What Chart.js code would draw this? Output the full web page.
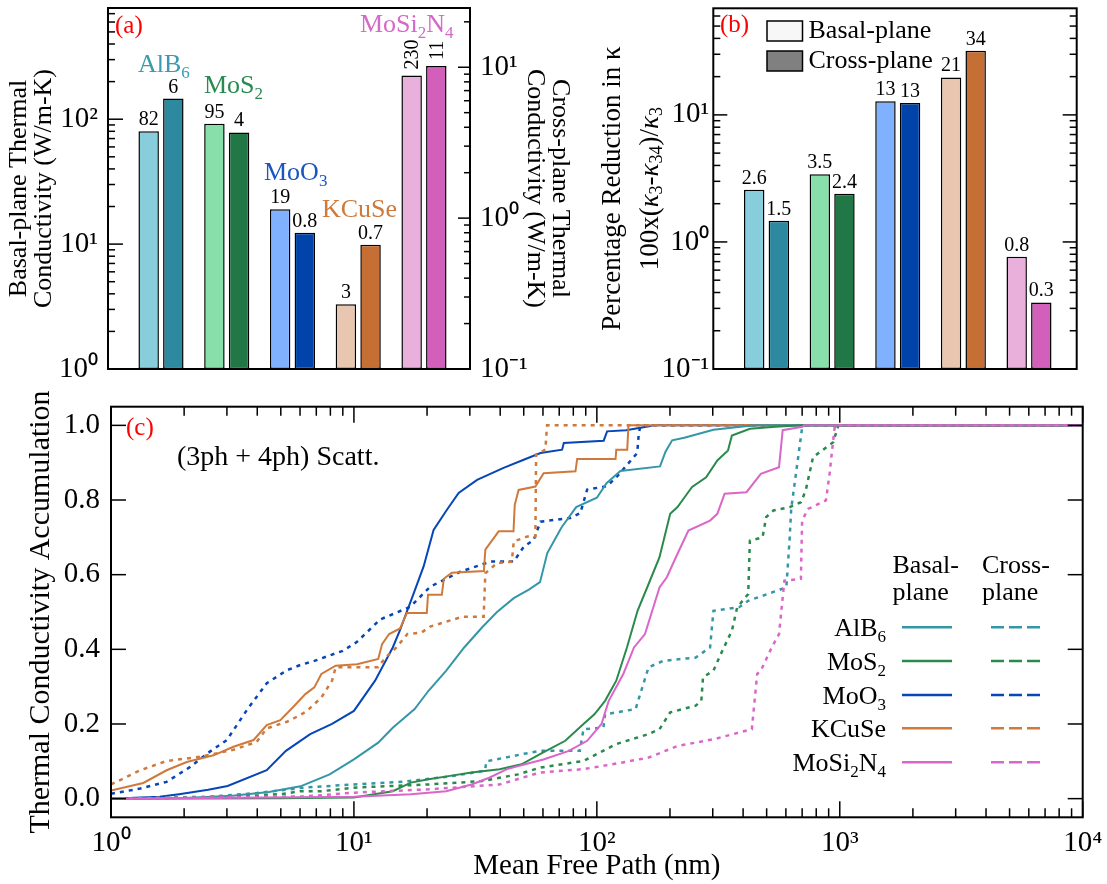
<!DOCTYPE html>
<html><head><meta charset="utf-8">
<script src="https://cdn.jsdelivr.net/npm/chart.js@4.4.1/dist/chart.umd.min.js"></script>
<style>
html,body{margin:0;padding:0;background:#fff;}
#wrap{position:relative;width:1107px;height:884px;background:#fff;overflow:hidden;}
canvas{position:absolute;display:block;}
</style></head><body>
<div id="wrap">
<canvas id="ca" width="580" height="390" style="left:0px;top:0px;width:580px;height:390px"></canvas>
<canvas id="cb" width="527" height="390" style="left:580px;top:0px;width:527px;height:390px"></canvas>
<canvas id="cc" width="1107" height="494" style="left:0px;top:390px;width:1107px;height:494px"></canvas>
</div>
<script>
// ---------------- DATA ----------------
const materials = ['AlB₆', 'MoS₂', 'MoO₃', 'KCuSe', 'MoSi₂N₄'];
const categoryPos = [1, 2, 3, 4, 5];
// panel (a): thermal conductivity (W/m-K)
const kBasal = [80, 92, 19, 3.3, 224];
const kCross = [6.2, 3.7, 0.80, 0.665, 10.2];
const kBasalLabels = ['82', '95', '19', '3', '230'];
const kCrossLabels = ['6', '4', '0.8', '0.7', '11'];
// panel (b): percentage reduction in kappa
const redBasal = [2.58, 3.41, 12.8, 19.7, 0.766];
const redCross = [1.47, 2.39, 12.4, 31.9, 0.334];
const redBasalLabels = ['2.6', '3.5', '13', '21', '0.8'];
const redCrossLabels = ['1.5', '2.4', '13', '34', '0.3'];
// tick values
const logTicksA = [1,2,3,4,5,6,7,8,9,10,20,30,40,50,60,70,80,90,100,200,300,400,500,600,700];
const logTicksA2 = [0.1,0.2,0.3,0.4,0.5,0.6,0.7,0.8,0.9,1,2,3,4,5,6,7,8,9,10,20];
const logTicksB = [0.1,0.2,0.3,0.4,0.5,0.6,0.7,0.8,0.9,1,2,3,4,5,6,7,8,9,10,20,30,40,50,60];
const logTicksC = [1,2,3,4,5,6,7,8,9,10,20,30,40,50,60,70,80,90,100,200,300,400,500,600,700,800,900,1000,2000,3000,4000,5000,6000,7000,8000,9000,10000];
const yTicksC = [0, 0.2, 0.4, 0.6, 0.8, 1.0];
// panel (c): accumulation vs mean free path (nm)
const mfpAlB6B = [1, 1.995, 3.162, 4.467, 6.026, 7.943, 10, 12.59, 14.45, 17.78, 20.28, 23.99, 28.44, 33.73, 38.82, 45.50, 52.48, 58.34, 62.52, 71.61, 82.22, 100, 109.6, 125.0, 182.0, 191.9, 204.2, 229.1, 302.0, 398.1, 457.1, 10000];
const accAlB6B = [0, 0.002, 0.008, 0.018, 0.033, 0.065, 0.105, 0.15, 0.19, 0.24, 0.289, 0.343, 0.405, 0.459, 0.50, 0.537, 0.56, 0.58, 0.658, 0.727, 0.781, 0.806, 0.845, 0.878, 0.89, 0.93, 0.96, 0.967, 0.988, 0.997, 1.0, 1.0];
const mfpAlB6C = [1, 2.512, 3.981, 6.31, 10, 15.85, 25.12, 34.67, 35.08, 50.12, 58.34, 85.11, 88.10, 106.4, 108.1, 144.5, 147.2, 163.3, 187.5, 255.3, 292.4, 302.0, 385.5, 419.8, 602.6, 622.3, 631.0, 691.8, 701.5, 10000];
const accAlB6C = [0, 0.005, 0.015, 0.03, 0.038, 0.045, 0.06, 0.075, 0.1, 0.12, 0.128, 0.128, 0.186, 0.19, 0.226, 0.24, 0.258, 0.352, 0.369, 0.378, 0.405, 0.503, 0.513, 0.53, 0.566, 0.70, 0.776, 0.969, 1.0, 1.0];
const mfpMoS2B = [1, 5.012, 10, 14.45, 17.14, 20.28, 24.89, 30.48, 39.81, 48.98, 58.34, 74.13, 88.10, 97.72, 108.1, 120.2, 133.0, 147.2, 163.3, 181.1, 200.4, 214.8, 230.1, 246.6, 281.8, 313.3, 346.7, 359.7, 426.6, 543.3, 691.8, 10000];
const accMoS2B = [0, 0.001, 0.003, 0.02, 0.043, 0.052, 0.061, 0.07, 0.079, 0.092, 0.119, 0.155, 0.2, 0.226, 0.262, 0.316, 0.405, 0.504, 0.575, 0.647, 0.763, 0.781, 0.808, 0.835, 0.861, 0.906, 0.933, 0.973, 0.991, 0.996, 1.0, 1.0];
const mfpMoS2C = [1, 3.162, 5.129, 6.026, 7.345, 10.30, 20.28, 33.73, 47.32, 58.34, 88.10, 120.0, 163.3, 181.1, 200.4, 255.3, 269.2, 273.5, 302.0, 323.6, 359.7, 378.4, 419.8, 426.6, 480.8, 497.7, 533.3, 622.3, 691.8, 724.4, 776.2, 847.2, 939.7, 972.7, 988.6, 10000];
const accMoS2C = [0, 0.004, 0.013, 0.02, 0.02, 0.03, 0.038, 0.047, 0.065, 0.083, 0.101, 0.146, 0.173, 0.186, 0.231, 0.249, 0.262, 0.325, 0.343, 0.387, 0.45, 0.513, 0.548, 0.691, 0.70, 0.754, 0.772, 0.781, 0.794, 0.826, 0.915, 0.933, 0.955, 0.987, 1.0, 1.0];
const mfpMoO3B = [1, 1.585, 1.905, 2.512, 3.02, 4.375, 5.248, 6.607, 8.128, 10, 12.22, 14.45, 15.49, 17.62, 19.36, 21.28, 24.15, 26.98, 32.14, 41.3, 50.0, 58.61, 71.94, 73.11, 106.7, 110.2, 131.8, 166.3, 169.8, 10000];
const accMoO3B = [0, 0.005, 0.012, 0.024, 0.034, 0.076, 0.128, 0.173, 0.2, 0.235, 0.316, 0.405, 0.452, 0.55, 0.622, 0.72, 0.774, 0.819, 0.854, 0.886, 0.908, 0.926, 0.935, 0.953, 0.959, 0.984, 0.987, 0.998, 1.0, 1.0];
const mfpMoO3C = [1, 1.318, 1.694, 2.118, 2.477, 2.999, 3.622, 4.375, 5.297, 6.012, 6.871, 8.995, 10.30, 12.82, 17.06, 20.61, 27.42, 36.48, 45.50, 50.0, 54.95, 58.61, 77.8, 85.51, 91.2, 110.2, 121.1, 146.6, 148.9, 151.4, 10000];
const accMoO3C = [0.013, 0.027, 0.045, 0.085, 0.12, 0.157, 0.237, 0.309, 0.344, 0.358, 0.369, 0.396, 0.42, 0.48, 0.514, 0.568, 0.608, 0.635, 0.635, 0.675, 0.693, 0.742, 0.752, 0.765, 0.828, 0.837, 0.863, 0.926, 0.98, 1.0, 1.0];
const mfpKCuSeB = [1, 1.358, 1.694, 2.051, 2.642, 3.192, 3.864, 4.375, 4.977, 5.636, 6.31, 6.871, 7.345, 8.414, 10.30, 12.59, 13.06, 13.96, 15.49, 16.52, 19.95, 20.18, 23.01, 23.44, 25.29, 34.28, 34.75, 39.45, 45.39, 45.92, 47.64, 55.85, 60.39, 81.66, 82.99, 119.4, 120.2, 133.4, 134.9, 10000];
const accKCuSeB = [0.022, 0.042, 0.076, 0.098, 0.116, 0.139, 0.157, 0.197, 0.21, 0.246, 0.28, 0.298, 0.334, 0.356, 0.36, 0.374, 0.414, 0.441, 0.456, 0.497, 0.497, 0.546, 0.546, 0.589, 0.605, 0.61, 0.667, 0.716, 0.716, 0.787, 0.827, 0.836, 0.872, 0.877, 0.91, 0.91, 0.935, 0.935, 1.0, 1.0];
const mfpKCuSeC = [1, 1.318, 1.694, 2.328, 3.192, 3.981, 4.375, 5.297, 6.012, 6.412, 7.345, 8.128, 8.414, 12.59, 13.49, 14.96, 16.60, 18.97, 20.61, 27.86, 34.20, 34.75, 38.82, 44.67, 45.50, 51.64, 55.85, 56.23, 61.38, 62.37, 10000];
const accKCuSeC = [0.038, 0.076, 0.101, 0.112, 0.131, 0.152, 0.188, 0.206, 0.224, 0.235, 0.271, 0.316, 0.352, 0.352, 0.378, 0.405, 0.441, 0.445, 0.461, 0.487, 0.487, 0.604, 0.631, 0.635, 0.689, 0.702, 0.702, 0.922, 0.935, 1.0, 1.0];
const mfpMoSi2N4B = [1, 10, 17.14, 23.99, 30.48, 36.06, 42.66, 52.48, 60.26, 76.74, 91.20, 104.5, 111.9, 128.5, 142.2, 157.8, 181.1, 194.1, 214.8, 238.2, 292.4, 313.3, 335.7, 413.0, 473.2, 562.3, 582.1, 701.5, 714.5, 10000];
const accMoSi2N4B = [0, 0.005, 0.012, 0.02, 0.038, 0.056, 0.079, 0.095, 0.105, 0.128, 0.155, 0.2, 0.262, 0.334, 0.405, 0.441, 0.566, 0.593, 0.656, 0.718, 0.745, 0.763, 0.817, 0.821, 0.87, 0.888, 0.987, 0.996, 1.0, 1.0];
const mfpMoSi2N4C = [1, 6.31, 10, 20.28, 39.81, 58.34, 88.10, 115.9, 163.3, 214.8, 302.0, 434.5, 457.1, 473.2, 524.8, 562.3, 582.1, 591.6, 691.8, 699.8, 739.6, 877.0, 907.8, 939.7, 955.0, 10000];
const accMoSi2N4C = [0, 0.006, 0.016, 0.025, 0.038, 0.07, 0.079, 0.092, 0.11, 0.141, 0.159, 0.186, 0.334, 0.343, 0.405, 0.441, 0.539, 0.584, 0.589, 0.745, 0.776, 0.799, 0.87, 0.96, 1.0, 1.0];

// ---------------- STYLE ----------------
const FONT = '"Liberation Serif", "Times New Roman", serif';
const basalColors = ['#88cddb', '#88dfa9', '#80b1fe', '#e9c6b0', '#e9b0dc'];
const crossColors = ['#2d89a0', '#217745', '#0044a9', '#c66f35', '#d260bb'];
const lineColors = ['#3596a8', '#2a8a4c', '#0746b6', '#cf7a3c', '#da66c9'];
const nameColors = ['#3a9bb0', '#2a8a4f', '#1a55c0', '#cc7a3e', '#d46ac8'];
const chemParts = [[['AlB',0],['6',1]], [['MoS',0],['2',1]], [['MoO',0],['3',1]], [['KCuSe',0]], [['MoSi',0],['2',1],['N',0],['4',1]]];

Chart.defaults.font.family = FONT;
Chart.defaults.color = '#000';
Chart.defaults.animation = false;

const SUP = {'-':'⁻','0':'⁰','1':'¹','2':'²','3':'³','4':'⁴'};
function isPow10(v){ const e = Math.round(Math.log10(v)); return Math.abs(v - Math.pow(10, e)) < 1e-6 * v; }
function pow10Label(v){ if (!isPow10(v)) return ''; const e = Math.round(Math.log10(v)); return '10' + String(e).split('').map(c => SUP[c]).join(''); }
function setTicks(list){ return s => { s.ticks = list.map(v => ({value: v})); }; }

// parts: [text, kind] kind 0 normal, 1 subscript, 2 italic
function drawRich(ctx, parts, x, y, size, color, align){
  const sub = Math.round(size * 0.66);
  const fontOf = k => (k === 2 ? 'italic ' : '') + (k === 1 ? sub : size) + 'px ' + FONT;
  let w = 0;
  parts.forEach(p => { ctx.font = fontOf(p[1]); w += ctx.measureText(p[0]).width; });
  let cx = align === 'right' ? x - w : (align === 'center' ? x - w / 2 : x);
  ctx.fillStyle = color; ctx.textAlign = 'left';
  parts.forEach(p => {
    ctx.font = fontOf(p[1]);
    ctx.fillText(p[0], cx, y + (p[1] === 1 ? size * 0.22 : 0));
    cx += ctx.measureText(p[0]).width;
  });
}

function framePlugin(id, marks){
  return { id, afterDraw(chart){
    const ctx = chart.ctx, a = chart.chartArea;
    ctx.save(); ctx.strokeStyle = '#000'; ctx.lineWidth = 1.5;
    marks.forEach(m => {
      const sc = chart.scales[m.scale];
      sc.ticks.forEach(t => {
        const major = m.allMajor || isPow10(t.value);
        const len = major ? m.major : m.minor;
        if (!len) return;
        const p = sc.getPixelForValue(t.value);
        m.sides.forEach(s => {
          ctx.beginPath();
          if (s === 'left') { ctx.moveTo(a.left, p); ctx.lineTo(a.left + len, p); }
          else if (s === 'right') { ctx.moveTo(a.right, p); ctx.lineTo(a.right - len, p); }
          else if (s === 'bottom') { ctx.moveTo(p, a.bottom); ctx.lineTo(p, a.bottom - len); }
          else { ctx.moveTo(p, a.top); ctx.lineTo(p, a.top + len); }
          ctx.stroke();
        });
      });
    });
    ctx.lineWidth = 2; ctx.strokeRect(a.left, a.top, a.right - a.left, a.bottom - a.top);
    ctx.restore();
  }};
}

function barValueLabels(chart, labelSets, rotateIndex){
  const ctx = chart.ctx;
  ctx.save();
  ctx.font = '20px ' + FONT; ctx.fillStyle = '#000';
  labelSets.forEach((labels, di) => {
    const meta = chart.getDatasetMeta(di);
    meta.data.forEach((el, i) => {
      if (i === rotateIndex) {
        ctx.save(); ctx.translate(el.x, el.y - 6); ctx.rotate(-Math.PI / 2);
        ctx.textAlign = 'left'; ctx.textBaseline = 'middle'; ctx.fillText(labels[i], 0, 1); ctx.restore();
      } else {
        ctx.textAlign = 'center'; ctx.textBaseline = 'alphabetic'; ctx.fillText(labels[i], el.x, el.y - 6);
      }
    });
  });
  ctx.restore();
}

function barDatasets(basal, cross, yId2){
  const common = {borderColor: '#000', borderWidth: 1.5, borderSkipped: false, categoryPercentage: 0.75, barPercentage: 0.83};
  return [
    Object.assign({label: 'Basal-plane', data: basal.map((v, i) => ({x: categoryPos[i], y: v})), yAxisID: 'y', backgroundColor: basalColors}, common),
    Object.assign({label: 'Cross-plane', data: cross.map((v, i) => ({x: categoryPos[i], y: v})), yAxisID: yId2, backgroundColor: crossColors}, common)
  ];
}

const noGrid = {display: false, drawTicks: false};
const noBorder = {display: false};
const tickFont = {family: FONT, size: 29};

// ---------------- PANEL (a) ----------------
const namePosA = [[138, 72], [204, 93], [264, 180], [322, 217], [360, 32]];
new Chart(document.getElementById('ca'), {
  type: 'bar',
  data: {datasets: barDatasets(kBasal, kCross, 'y2')},
  options: {
    responsive: false, animation: false,
    layout: {padding: {left: 0, right: 0, top: 8, bottom: 21}},
    plugins: {legend: {display: false}, tooltip: {enabled: false}},
    scales: {
      x: {type: 'linear', display: false, min: 0.194, max: 5.70, offset: false, afterBuildTicks: setTicks(categoryPos)},
      y: {type: 'logarithmic', position: 'left', min: 1, max: 777,
          afterBuildTicks: setTicks(logTicksA),
          afterFit: s => { s.width = 108; s.paddingTop = 0; s.paddingBottom = 0; },
          grid: noGrid, border: noBorder,
          ticks: {autoSkip: false, padding: 10, font: tickFont, callback: v => pow10Label(v)},
          title: {display: true, text: ['Basal-plane Thermal', 'Conductivity (W/m-K)'], font: {family: FONT, size: 26, lineHeight: 0.95}, padding: {top: 7, bottom: 0}}},
      y2: {type: 'logarithmic', position: 'right', min: 0.1, max: 24.7,
          afterBuildTicks: setTicks(logTicksA2),
          afterFit: s => { s.width = 110; s.paddingTop = 0; s.paddingBottom = 0; },
          grid: noGrid, border: noBorder,
          ticks: {autoSkip: false, padding: 10, font: tickFont, callback: v => pow10Label(v)},
          title: {display: true, text: ['Cross-plane Thermal', 'Conductivity (W/m-K)'], font: {family: FONT, size: 26, lineHeight: 0.95}, padding: {top: 8, bottom: 0}}}
    }
  },
  plugins: [
    framePlugin('frameA', [{scale: 'y', sides: ['left'], major: 15, minor: 7}, {scale: 'y2', sides: ['right'], major: 12, minor: 6}]),
    {id: 'labelsA', afterDatasetsDraw(chart){
      barValueLabels(chart, [kBasalLabels, kCrossLabels], 4);
      const ctx = chart.ctx; ctx.save(); ctx.textBaseline = 'alphabetic';
      chemParts.forEach((p, i) => drawRich(ctx, p, namePosA[i][0], namePosA[i][1], 26, nameColors[i], 'left'));
      ctx.font = '25px ' + FONT; ctx.fillStyle = '#ff0000'; ctx.textAlign = 'left';
      ctx.fillText('(a)', 115, 33);
      ctx.restore();
    }}
  ]
});

// ---------------- PANEL (b) ----------------
const bTitle2 = [['100x(',0],['κ',2],['3',1],['-',0],['κ',2],['34',1],[')/',0],['κ',2],['3',1]];
new Chart(document.getElementById('cb'), {
  type: 'bar',
  data: {datasets: barDatasets(redBasal, redCross, 'y')},
  options: {
    responsive: false, animation: false,
    layout: {padding: {left: 0, right: 30.3, top: 8.3, bottom: 21}},
    plugins: {legend: {display: false}, tooltip: {enabled: false}},
    scales: {
      x: {type: 'linear', display: false, min: 0.189, max: 5.727, offset: false, afterBuildTicks: setTicks(categoryPos)},
      y: {type: 'logarithmic', position: 'left', min: 0.1, max: 69,
          afterBuildTicks: setTicks(logTicksB),
          afterFit: s => { s.width = 133.3; s.paddingTop = 0; s.paddingBottom = 0; },
          grid: noGrid, border: noBorder,
          ticks: {autoSkip: false, padding: 4, font: tickFont, callback: v => pow10Label(v)},
          title: {display: true, text: 'Percentage Reduction in κ', font: {family: FONT, size: 27, lineHeight: 1.4}, padding: {top: 14, bottom: 0}}}
    }
  },
  plugins: [
    framePlugin('frameB', [{scale: 'y', sides: ['left', 'right'], major: 14, minor: 7}]),
    {id: 'labelsB', afterDatasetsDraw(chart){
      barValueLabels(chart, [redBasalLabels, redCrossLabels], -1);
      const ctx = chart.ctx; ctx.save();
      ctx.textBaseline = 'alphabetic';
      ctx.font = '25px ' + FONT; ctx.fillStyle = '#ff0000'; ctx.textAlign = 'left';
      ctx.fillText('(b)', 140, 32);
      // second line of the y-axis title (italic kappa, subscripts)
      const a = chart.chartArea;
      ctx.save(); ctx.translate(71, (a.top + a.bottom) / 2); ctx.rotate(-Math.PI / 2);
      ctx.textBaseline = 'middle';
      drawRich(ctx, bTitle2, 0, 0, 27, '#000', 'center');
      ctx.restore();
      // legend
      ctx.textBaseline = 'alphabetic';
      ctx.lineWidth = 1.5; ctx.strokeStyle = '#000';
      ctx.fillStyle = '#f7f7f7'; ctx.fillRect(187, 21, 35.5, 20); ctx.strokeRect(187, 21, 35.5, 20);
      ctx.fillStyle = '#808080'; ctx.fillRect(187, 51, 35.5, 20); ctx.strokeRect(187, 51, 35.5, 20);
      ctx.fillStyle = '#000'; ctx.font = '26px ' + FONT; ctx.textAlign = 'left';
      ctx.fillText('Basal-plane', 228.5, 38);
      ctx.fillText('Cross-plane', 228.5, 68);
      ctx.restore();
    }}
  ]
});

// ---------------- PANEL (c) ----------------
function lineDs(label, mfp, acc, color, dashed){
  return {label, data: mfp.map((x, i) => ({x, y: acc[i]})), borderColor: color, backgroundColor: color,
          borderWidth: dashed ? 2.5 : 2, borderDash: dashed ? [4, 5] : [], pointRadius: 0, tension: 0, fill: false};
}
const legendRowsY = [237.3, 271, 305, 338.3, 372.3];
new Chart(document.getElementById('cc'), {
  type: 'line',
  data: {datasets: [
    lineDs('MoSi₂N₄ basal', mfpMoSi2N4B, accMoSi2N4B, lineColors[4], false),
    lineDs('MoSi₂N₄ cross', mfpMoSi2N4C, accMoSi2N4C, lineColors[4], true),
    lineDs('MoS₂ basal', mfpMoS2B, accMoS2B, lineColors[1], false),
    lineDs('MoS₂ cross', mfpMoS2C, accMoS2C, lineColors[1], true),
    lineDs('AlB₆ basal', mfpAlB6B, accAlB6B, lineColors[0], false),
    lineDs('AlB₆ cross', mfpAlB6C, accAlB6C, lineColors[0], true),
    lineDs('KCuSe basal', mfpKCuSeB, accKCuSeB, lineColors[3], false),
    lineDs('KCuSe cross', mfpKCuSeC, accKCuSeC, lineColors[3], true),
    lineDs('MoO₃ basal', mfpMoO3B, accMoO3B, lineColors[2], false),
    lineDs('MoO₃ cross', mfpMoO3C, accMoO3C, lineColors[2], true)
  ]},
  options: {
    responsive: false, animation: false,
    layout: {padding: {left: 0, right: 24.3, top: 16.7, bottom: 0}},
    plugins: {legend: {display: false}, tooltip: {enabled: false}},
    scales: {
      x: {type: 'logarithmic', min: 1, max: 10000,
          afterBuildTicks: setTicks(logTicksC),
          afterFit: s => { s.height = 66.7; s.paddingLeft = 0; s.paddingRight = 0; },
          grid: noGrid, border: noBorder,
          ticks: {autoSkip: false, maxRotation: 0, minRotation: 0, padding: 9, font: tickFont, callback: v => pow10Label(v)},
          title: {display: true, text: 'Mean Free Path (nm)', font: {family: FONT, size: 29, lineHeight: 1}, padding: {top: 0, bottom: 3}}},
      y: {type: 'linear', min: -0.05, max: 1.05,
          afterBuildTicks: setTicks(yTicksC),
          afterFit: s => { s.width = 111; s.paddingTop = 0; s.paddingBottom = 0; },
          grid: noGrid, border: noBorder,
          ticks: {autoSkip: false, padding: 11, font: tickFont, callback: v => v.toFixed(1)},
          title: {display: true, text: 'Thermal Conductivity Accumulation', font: {family: FONT, size: 30, lineHeight: 1}, padding: {top: 26, bottom: 0}}}
    }
  },
  plugins: [
    framePlugin('frameC', [
      {scale: 'y', sides: ['left', 'right'], major: 15, minor: 15, allMajor: true},
      {scale: 'x', sides: ['bottom', 'top'], major: 16, minor: 9}
    ]),
    {id: 'textC', afterDatasetsDraw(chart){
      const ctx = chart.ctx; ctx.save();
      ctx.textAlign = 'left'; ctx.textBaseline = 'alphabetic';
      ctx.font = '25px ' + FONT; ctx.fillStyle = '#ff0000'; ctx.fillText('(c)', 126, 45);
      ctx.font = '28px ' + FONT; ctx.fillStyle = '#000'; ctx.fillText('(3ph + 4ph) Scatt.', 177, 75);
      ctx.font = '26px ' + FONT;
      ctx.fillText('Basal-', 892.5, 183); ctx.fillText('plane', 892.5, 210);
      ctx.fillText('Cross-', 982, 183); ctx.fillText('plane', 982, 210);
      chemParts.forEach((p, i) => {
        const y = legendRowsY[i];
        drawRich(ctx, p, 886, y + 9, 26, '#000', 'right');
        ctx.strokeStyle = lineColors[i]; ctx.lineWidth = 2.5;
        ctx.setLineDash([]); ctx.beginPath(); ctx.moveTo(902, y); ctx.lineTo(952, y); ctx.stroke();
        ctx.setLineDash([13, 5]); ctx.beginPath(); ctx.moveTo(991, y); ctx.lineTo(1042, y); ctx.stroke();
      });
      ctx.setLineDash([]);
      ctx.restore();
    }}
  ]
});
</script>
</body></html>
